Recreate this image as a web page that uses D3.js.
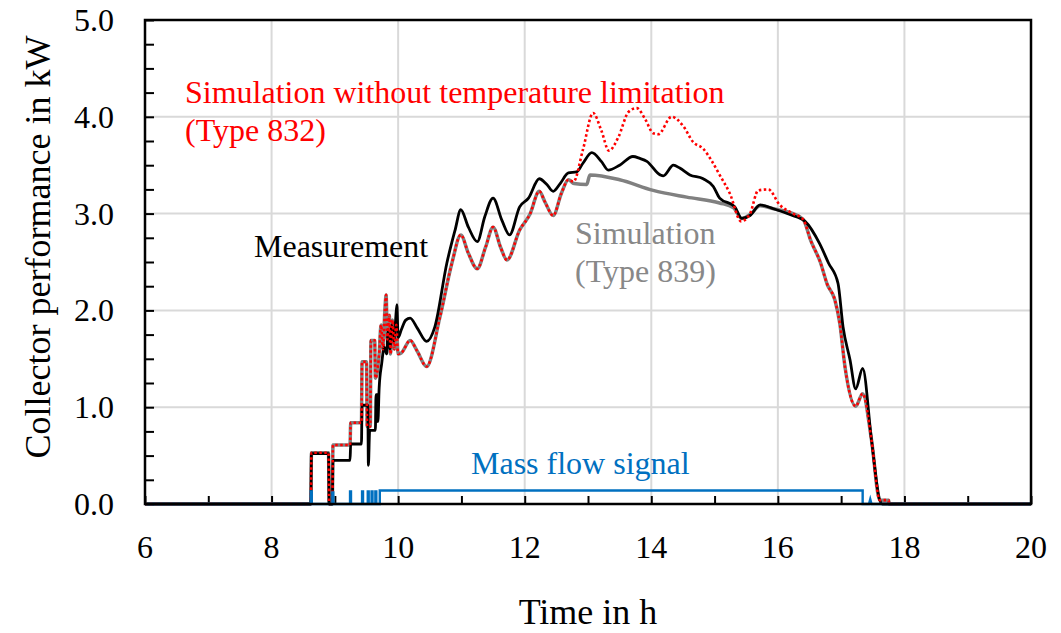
<!DOCTYPE html>
<html>
<head>
<meta charset="utf-8">
<script src="https://cdn.jsdelivr.net/npm/d3@7"></script>
<style>
  body { margin: 0; background: #fff; }
  text { font-family: "Liberation Serif", "Times New Roman", serif; }
</style>
</head>
<body>
<div id="chart"></div>
<script>
// measured collector output, kW over hours of the day
var measurement = [
  [6,0],[8.62,0],[8.63,0.52],[8.90,0.52],[8.91,0],[8.96,0],[8.97,0.45],[9.24,0.45],
  [9.25,0.62],[9.42,0.62],[9.43,1.02],[9.52,1.02],[9.53,0.40],[9.55,0.76],[9.64,0.76],
  [9.65,1.13],[9.67,1.13],[9.68,0.85],[9.70,1.20],[9.74,1.45],[9.78,1.62],[9.82,1.55],
  [9.84,1.78],[9.87,1.60],[9.90,1.85],[9.93,1.68],[9.96,1.90],[9.98,2.06],[10.0,1.72],
  [10.05,1.80],[10.12,1.90],[10.19,1.92],[10.30,1.82],[10.45,1.68],[10.58,1.83],
  [10.77,2.49],[10.90,2.83],[10.99,3.04],[11.11,2.86],[11.25,2.71],[11.37,2.97],
  [11.50,3.16],[11.64,2.93],[11.76,2.78],[11.92,3.07],[12.06,3.16],[12.23,3.36],
  [12.35,3.30],[12.45,3.23],[12.56,3.31],[12.69,3.42],[12.82,3.43],[12.92,3.52],
  [13.06,3.63],[13.21,3.54],[13.32,3.45],[13.50,3.50],[13.71,3.59],[13.82,3.57],
  [13.93,3.54],[14.14,3.40],[14.19,3.39],[14.35,3.50],[14.45,3.47],[14.61,3.40],
  [14.82,3.36],[14.98,3.28],[15.08,3.16],[15.32,3.07],[15.43,2.95],[15.56,2.98],
  [15.72,3.09],[15.93,3.05],[16.19,2.99],[16.43,2.92],[16.66,2.69],[16.80,2.49],
  [16.95,2.28],[17.03,1.83],[17.14,1.49],[17.23,1.19],[17.34,1.40],[17.48,0.66],
  [17.61,0.04],[17.65,0],[20,0]
];

// both simulations agree up to about 12.7 h
var simEarly = [
  [6,0],[8.62,0],[8.63,0.53],[8.90,0.53],[8.91,0],[8.96,0],[8.97,0.61],[9.24,0.61],
  [9.25,0.84],[9.42,0.84],[9.43,1.47],[9.50,1.47],[9.51,0.80],[9.56,0.80],[9.57,1.69],
  [9.63,1.69],[9.64,1.30],[9.70,1.55],[9.73,1.85],[9.76,1.60],[9.79,2.00],[9.81,2.16],
  [9.83,1.70],[9.86,1.95],[9.88,1.55],[9.91,1.90],[9.94,1.60],[9.97,1.85],[10.0,1.55],
  [10.05,1.56],[10.19,1.69],[10.30,1.58],[10.45,1.42],[10.66,1.93],[10.85,2.49],
  [10.99,2.78],[11.11,2.59],[11.25,2.43],[11.38,2.65],[11.50,2.86],[11.62,2.65],
  [11.72,2.52],[11.92,2.83],[12.08,2.99],[12.23,3.23],[12.32,3.12],[12.45,2.98],
  [12.58,3.21],[12.69,3.35]
];

// type 832 (no temperature limit) in the middle of the day
var sim832Mid = [
  [12.77,3.33],[12.92,3.66],[13.08,4.04],[13.21,3.86],[13.33,3.65],[13.48,3.79],
  [13.64,4.05],[13.77,4.09],[13.90,3.98],[14.03,3.83],[14.11,3.82],[14.32,4.00],
  [14.51,3.90],[14.66,3.74],[14.82,3.67],[14.95,3.55],[15.08,3.40],[15.24,3.21],
  [15.42,2.92],[15.56,3.00],[15.69,3.24],[15.85,3.25],[16.03,3.09],[16.24,3.00]
];

// type 839 in the middle of the day
var sim839Mid = [
  [12.78,3.31],[12.98,3.30],[13.03,3.40],[13.50,3.35],[14.03,3.24],[14.56,3.17],
  [15.08,3.11],[15.30,3.06],[15.43,2.95],[15.56,2.99],[15.72,3.08],[15.93,3.05],
  [16.24,3.00]
];

// both simulations again share the afternoon drop
var simLate = [
  [16.40,2.94],[16.52,2.72],[16.67,2.50],[16.78,2.27],[16.90,2.11],[16.98,1.86],
  [17.06,1.42],[17.23,1.01],[17.34,1.14],[17.48,0.66],[17.61,0.04],[17.75,0.04],
  [17.76,0],[20,0]
];

var massFlow = [
  [6,0],[8.62,0],[8.62,0.13],[8.635,0.13],[8.635,0],[8.96,0],[8.96,0.12],[8.975,0.12],
  [8.975,0],[9.24,0],[9.24,0.13],[9.255,0.13],[9.255,0],[9.43,0],[9.43,0.13],[9.445,0.13],
  [9.445,0],[9.52,0],[9.52,0.13],[9.535,0.13],[9.535,0],[9.58,0],[9.58,0.13],[9.595,0.13],
  [9.595,0],[9.64,0],[9.64,0.13],[9.655,0.13],[9.655,0],[9.71,0],[9.71,0.14],[12.5,0.14],
  [15.0,0.14],[17.34,0.14],[17.34,0],[17.44,0],[17.46,0.05],[17.48,0],[20,0]
];

var xTicks = [6, 8, 10, 12, 14, 16, 18, 20];
var yTicks = [0, 1, 2, 3, 4, 5];

var width = 1061, height = 633;
var margin = {left: 145, right: 30, top: 20, bottom: 129};

var x = d3.scaleLinear().domain([6, 20]).range([margin.left, width - margin.right]);
var y = d3.scaleLinear().domain([0, 5]).range([height - margin.bottom, margin.top]);

var svg = d3.select("#chart").append("svg")
    .attr("width", width)
    .attr("height", height);

// grid
svg.append("g").selectAll("line")
    .data(xTicks.slice(1, -1))
  .enter().append("line")
    .attr("x1", d => x(d)).attr("x2", d => x(d))
    .attr("y1", y(0)).attr("y2", y(5))
    .attr("stroke", "#d9d9d9").attr("stroke-width", 2);

svg.append("g").selectAll("line")
    .data(yTicks.slice(1, -1))
  .enter().append("line")
    .attr("x1", x(6)).attr("x2", x(20))
    .attr("y1", d => y(d)).attr("y2", d => y(d))
    .attr("stroke", "#d9d9d9").attr("stroke-width", 2);

// inward ticks
var xAxis = d3.axisBottom(x).tickValues(d3.range(6, 21, 1)).tickSize(-8).tickFormat("");
svg.append("g")
    .attr("transform", "translate(0," + y(0) + ")")
    .call(xAxis)
    .call(g => g.select(".domain").remove())
    .selectAll("line").attr("stroke", "#000").attr("stroke-width", 2);

var yAxis = d3.axisLeft(y).tickValues(d3.range(0, 5.01, 0.25)).tickSize(-9).tickFormat("");
svg.append("g")
    .attr("transform", "translate(" + x(6) + ",0)")
    .call(yAxis)
    .call(g => g.select(".domain").remove())
    .selectAll("line").attr("stroke", "#000").attr("stroke-width", 2);

// tick labels
svg.append("g").selectAll("text")
    .data(xTicks)
  .enter().append("text")
    .attr("x", d => x(d))
    .attr("y", 558)
    .attr("text-anchor", "middle")
    .attr("font-size", 32)
    .text(d => d);

svg.append("g").selectAll("text")
    .data(yTicks)
  .enter().append("text")
    .attr("x", 114)
    .attr("y", d => y(d) + 11)
    .attr("text-anchor", "end")
    .attr("font-size", 32)
    .text(d => d.toFixed(1));

var smooth = d3.line()
    .curve(d3.curveMonotoneX)
    .x(d => x(d[0]))
    .y(d => y(d[1]));

var straight = d3.line()
    .x(d => x(d[0]))
    .y(d => y(d[1]));

var sim839 = simEarly.concat(sim839Mid, simLate);
var sim832 = simEarly.concat(sim832Mid, simLate);

svg.append("path")
    .datum(sim839)
    .attr("d", smooth)
    .attr("fill", "none")
    .attr("stroke", "#808080")
    .attr("stroke-width", 3.5);

svg.append("path")
    .datum(measurement)
    .attr("d", smooth)
    .attr("fill", "none")
    .attr("stroke", "#000")
    .attr("stroke-width", 2.8);

svg.append("path")
    .datum(sim832)
    .attr("d", smooth)
    .attr("fill", "none")
    .attr("stroke", "#ff0000")
    .attr("stroke-width", 2.6)
    .attr("stroke-dasharray", "2.5,2.5");

svg.append("path")
    .datum(massFlow)
    .attr("d", straight)
    .attr("fill", "none")
    .attr("stroke", "#0070c0")
    .attr("stroke-width", 2.4);

// frame
svg.append("rect")
    .attr("x", x(6)).attr("y", y(5))
    .attr("width", x(20) - x(6))
    .attr("height", y(0) - y(5))
    .attr("fill", "none")
    .attr("stroke", "#000")
    .attr("stroke-width", 2.5);

// annotations
function label(lines, lx, ly, color) {
  var t = svg.append("text")
      .attr("font-size", 32)
      .attr("fill", color);
  lines.forEach(function(s, i) {
    t.append("tspan").attr("x", lx).attr("y", ly + i * 38).text(s);
  });
}
label(["Simulation without temperature limitation", "(Type 832)"], 185, 103, "#ff0000");
label(["Measurement"], 254, 257, "#000");
label(["Simulation", "(Type 839)"], 575, 244, "#888888");
label(["Mass flow signal"], 471, 474, "#0070c0");

// axis titles
svg.append("text")
    .attr("x", (x(6) + x(20)) / 2)
    .attr("y", 624)
    .attr("text-anchor", "middle")
    .attr("font-size", 36)
    .text("Time in h");

svg.append("text")
    .attr("transform", "translate(50," + 247 + ") rotate(-90)")
    .attr("text-anchor", "middle")
    .attr("font-size", 36)
    .text("Collector performance in kW");
</script>
</body>
</html>
